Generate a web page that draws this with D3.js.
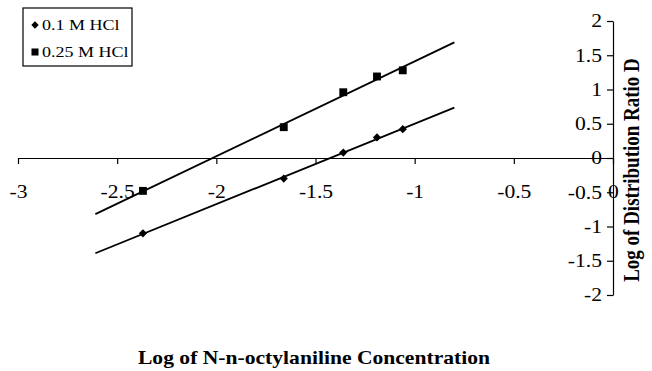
<!DOCTYPE html>
<html>
<head>
<meta charset="utf-8">
<script src="https://cdn.jsdelivr.net/npm/d3@7"></script>
<style>
  body { margin: 0; background: #fff; }
  svg, svg text { font-family: "Liberation Serif", "Times New Roman", "DejaVu Serif", serif; }
</style>
</head>
<body>
<div id="chart"></div>
<script>
// log of N-n-octylaniline concentration
const logConc = [-2.37, -1.66, -1.36, -1.19, -1.06];
// log D for each HCl strength
const hcl01 = [-1.10, -0.30, 0.08, 0.30, 0.42];
const hcl025 = [-0.48, 0.45, 0.96, 1.19, 1.28];
const seriesNames = ["0.1 M HCl", "0.25 M HCl"];
const xTicks = [-3, -2.5, -2, -1.5, -1, -0.5, 0];
const yTicks = [-2, -1.5, -1, -0.5, 0, 0.5, 1, 1.5, 2];
const trendRange = [-2.61, -0.8];

const width = 652, height = 371;
const serif = "'Liberation Serif', 'Times New Roman', serif";
const stretch = 1.2; // the original figure is a little wider than tall

const x = d3.scaleLinear().domain([-3, 0]).range([18, 613]);
const y = d3.scaleLinear().domain([-2, 2]).range([295, 21]);

const svg = d3.select("#chart").append("svg")
  .attr("width", width)
  .attr("height", height);

// x axis sits on y = 0
const xAxis = svg.append("g")
  .attr("transform", "translate(0," + y(0) + ")")
  .call(d3.axisBottom(x).tickValues(xTicks).tickSize(6).tickSizeOuter(0)
    .tickPadding(21).tickFormat(d => String(d)));

// y axis sits on x = 0
const yAxis = svg.append("g")
  .attr("transform", "translate(" + x(0) + ",0)")
  .call(d3.axisLeft(y).tickValues(yTicks).tickSize(6).tickSizeOuter(0)
    .tickPadding(5).tickFormat(d => String(d)));

[xAxis, yAxis].forEach(g => {
  g.attr("font-family", null).attr("font-size", null);
  g.selectAll("text")
    .style("font-family", serif).style("font-size", "18px")
    .attr("transform", "scale(" + stretch + ",1)");
});
yAxis.selectAll("text").attr("x", -11 / stretch);

svg.selectAll(".domain, .tick line").attr("stroke", "#000").attr("stroke-width", 1.2);

// least squares trend line
function fit(xs, ys) {
  const mx = d3.mean(xs), my = d3.mean(ys);
  const sxy = d3.sum(xs, (v, i) => (v - mx) * (ys[i] - my));
  const sxx = d3.sum(xs, v => (v - mx) * (v - mx));
  const m = sxy / sxx;
  return v => my + m * (v - mx);
}

// diamond = square turned 45 degrees
const series = [
  { name: seriesNames[0], values: hcl01, symbol: d3.symbolSquare, size: 34, turn: 45 },
  { name: seriesNames[1], values: hcl025, symbol: d3.symbolSquare, size: 62, turn: 0 }
];

const line = d3.line().x(d => x(d[0])).y(d => y(d[1]));

series.forEach(s => {
  const f = fit(logConc, s.values);
  svg.append("path")
    .attr("d", line(trendRange.map(v => [v, f(v)])))
    .attr("fill", "none")
    .attr("stroke", "#000")
    .attr("stroke-width", 1.8);

  svg.selectAll(null)
    .data(logConc.map((v, i) => [v, s.values[i]]))
    .enter()
    .append("path")
    .attr("d", d3.symbol().type(s.symbol).size(s.size))
    .attr("transform", d => "translate(" + x(d[0]) + "," + y(d[1]) + ") rotate(" + s.turn + ")")
    .attr("fill", "#000");
});

// legend
const legend = svg.append("g").attr("transform", "translate(23,8)");
legend.append("rect")
  .attr("width", 109).attr("height", 58)
  .attr("fill", "#fff").attr("stroke", "#000").attr("stroke-width", 1.2);
series.forEach((s, i) => {
  const row = legend.append("g").attr("transform", "translate(12," + (17 + i * 27) + ")");
  row.append("path")
    .attr("d", d3.symbol().type(s.symbol).size(s.size * 0.8))
    .attr("transform", "rotate(" + s.turn + ")")
    .attr("fill", "#000");
  row.append("text")
    .attr("x", 7 / stretch).attr("dy", "0.35em")
    .attr("transform", "scale(" + stretch + ",1)")
    .style("font-family", serif)
    .style("font-size", "15px")
    .text(s.name);
});

// axis titles
svg.append("text")
  .attr("transform", "translate(314,364) scale(" + stretch + ",1)")
  .attr("text-anchor", "middle")
  .style("font-family", serif)
  .style("font-size", "18px").style("font-weight", "bold")
  .text("Log of N-n-octylaniline Concentration");

svg.append("text")
  .attr("transform", "translate(639,170) rotate(-90) scale(1," + stretch + ")")
  .attr("text-anchor", "middle")
  .style("font-family", serif)
  .style("font-size", "19px").style("font-weight", "bold")
  .text("Log of Distribution Ratio D");
</script>
</body>
</html>
